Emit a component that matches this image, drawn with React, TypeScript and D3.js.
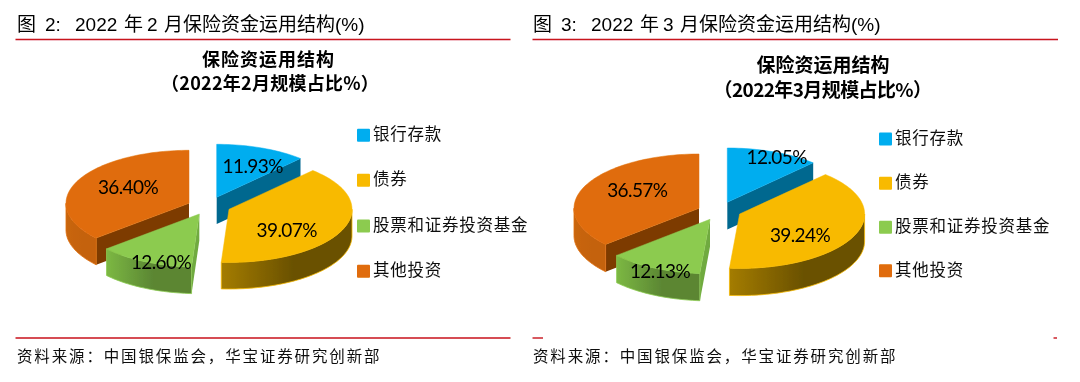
import React from "react";
import * as d3 from "d3";

const categories = ["银行存款", "债券", "股票和证券投资基金", "其他投资"];
const febValues = [11.93, 39.07, 12.6, 36.4];
const marValues = [12.05, 39.24, 12.13, 36.57];
const topColors = ["#00adef", "#f8ba00", "#8ccb50", "#e06c08"];
const faceColors = ["#00678f", "#7d6000", "#70aa3f", "#7d3b00"];
const wallStops = [
  ["#00678f", "#00678f"],
  ["#a47c00", "#6a5100"],
  ["#7cb843", "#5b8633"],
  ["#c9660f", "#c4620e"],
];
const drawOrder = [3, 0, 2, 1];
const sans = "'Liberation Sans','Noto Sans CJK SC',sans-serif";
const cjk = "'Noto Sans CJK SC',sans-serif";
const labelFont = "Lato,'Open Sans',sans-serif";

const color = d3.scaleOrdinal<string, string>().domain(categories).range(topColors);

type Panel = {
  id: string;
  dx: number;
  fig: string;
  month: string;
  values: number[];
  rx: number;
  ry: number;
  depth: number;
  apex: number[][];
  labels: number[][];
  titleX: number;
  titleY: number[];
  titleSize: number;
  titleGap: number;
  subGap: number;
  legendX: number;
  legendY: number[];
};

const panels: Panel[] = [
  {
    id: "feb", dx: 0, fig: "2", month: "2", values: febValues,
    rx: 123, ry: 53, depth: 26.7,
    apex: [[216.7, 197.3], [229, 209.3], [199.3, 214], [189, 203.3]],
    labels: [[252.7, 166], [286.7, 230], [161, 262.3], [128, 186.7]],
    titleX: 268.5, titleY: [59.5, 83.5], titleSize: 18, titleGap: 1, subGap: 0.25,
    legendX: 357, legendY: [135.3, 180.3, 226, 271.3],
  },
  {
    id: "mar", dx: 516, fig: "3", month: "3", values: marValues,
    rx: 125, ry: 54.3, depth: 27.3,
    apex: [[727.3, 202.3], [739.6, 214], [710, 219.3], [699, 208.3]],
    labels: [[776.7, 157.3], [800, 235], [660, 271], [637.3, 190]],
    titleX: 823, titleY: [65, 90], titleSize: 19, titleGap: 0, subGap: -0.6,
    legendX: 879, legendY: [139, 183.3, 227.3, 270.7],
  },
];

const lineGen = d3.line<[number, number]>().x((d) => d[0]).y((d) => d[1]);

function arcPts(cx: number, cy: number, rx: number, ry: number, a0: number, a1: number, dy = 0): [number, number][] {
  const n = Math.max(2, Math.ceil(Math.abs(a1 - a0) / 0.03));
  return d3.range(n + 1).map((i) => {
    const a = a0 + ((a1 - a0) * i) / n;
    return [cx + rx * Math.sin(a), cy - ry * Math.cos(a) + dy] as [number, number];
  });
}

function Slice({ p, i }: { p: Panel; i: number }) {
  const arcs = d3.pie<number>().sort(null)(p.values);
  const { startAngle: s, endAngle: e } = arcs[i];
  const [cx, cy] = p.apex[i];
  const { rx, ry, depth } = p;
  const top = arcPts(cx, cy, rx, ry, s, e);
  const topPath = lineGen([[cx, cy], ...top])! + "Z";
  const face = (a: number) => {
    const r = arcPts(cx, cy, rx, ry, a, a)[0];
    const pts: [number, number][] = [[cx, cy], r, [r[0], r[1] + depth], [cx, cy + depth]];
    return lineGen(pts)! + "Z";
  };
  const w0 = Math.max(s, Math.PI / 2);
  const w1 = Math.min(e, (3 * Math.PI) / 2);
  const wall = w1 > w0
    ? lineGen([...arcPts(cx, cy, rx, ry, w0, w1), ...arcPts(cx, cy, rx, ry, w1, w0, depth)])! + "Z"
    : null;
  const tc = color(categories[i]);
  return (
    <g>
      {Math.sin(e) > 0.01 && <path d={face(e)} fill={faceColors[i]} />}
      {Math.sin(s) < -0.01 && <path d={face(s)} fill={faceColors[i]} />}
      {wall && (
        <path d={wall} fill={`url(#wall-${p.id}-${i})`} stroke={tc} strokeWidth={0.8} strokeLinejoin="round" />
      )}
      <path d={topPath} fill={tc} stroke={tc} strokeWidth={0.5} strokeLinejoin="round" />
    </g>
  );
}

function Heading({ p }: { p: Panel }) {
  const x = (v: number) => v + p.dx;
  return (
    <text y={31} fontSize={19} fill="#000" fontFamily={sans}>
      <tspan x={x(17)}>图</tspan>
      <tspan x={x(45)}>{p.fig}:</tspan>
      <tspan x={x(75)}>2022</tspan>
      <tspan x={x(124)}>年</tspan>
      <tspan x={x(147)}>{p.month}</tspan>
      <tspan x={x(164)}>月</tspan>
      <tspan x={x(183)}>保险资金运用结构(%)</tspan>
    </text>
  );
}

function PanelView({ p }: { p: Panel }) {
  const left = p.dx === 0 ? 15.5 : 532.5;
  const right = p.dx === 0 ? 510.5 : 1058;
  return (
    <g>
      <defs>
        {wallStops.map((st, i) => (
          <linearGradient key={i} id={`wall-${p.id}-${i}`} x1="0" x2="1" y1="0" y2="0">
            <stop offset="0" stopColor={st[0]} />
            <stop offset="0.55" stopColor={st[1]} />
            <stop offset="1" stopColor={st[1]} />
          </linearGradient>
        ))}
      </defs>
      <Heading p={p} />
      <line x1={left} x2={right} y1={39.5} y2={39.5} stroke="#c8161d" strokeWidth={1.4} />
      {p.dx === 0 ? (
        <line x1={left} x2={right} y1={338} y2={338} stroke="#c8161d" strokeWidth={1.4} />
      ) : (
        <g stroke="#c8161d" strokeWidth={1.4}>
          <line x1={532.5} x2={543} y1={338} y2={338} />
          <line x1={1053.5} x2={1057} y1={338} y2={338} />
        </g>
      )}
      <text x={p.titleX} y={p.titleY[0] + 6.5} textAnchor="middle" fontSize={p.titleSize} fontWeight={700}
        fontFamily={cjk} letterSpacing={p.titleGap} fill="#000">保险资运用结构</text>
      <text x={p.titleX + (p.dx === 0 ? 1.5 : -0.5)} y={p.titleY[1] + 6.5} textAnchor="middle" fontSize={p.titleSize} fontWeight={700}
        fontFamily={cjk} letterSpacing={p.subGap} fill="#000">{`（2022年${p.month}月规模占比%）`}</text>
      {drawOrder.map((i) => <Slice key={i} p={p} i={i} />)}
      {p.values.map((v, i) => (
        <text key={i} x={p.labels[i][0]} y={p.labels[i][1] + 7} textAnchor="middle" fontSize={19} letterSpacing={-0.6}
          fontFamily={labelFont} fill="#000">{v.toFixed(2)}%</text>
      ))}
      {categories.map((c, i) => (
        <g key={c}>
          <rect x={p.legendX} y={p.legendY[i] - 6.5} width={13} height={13} rx={1} fill={color(c)} />
          <text x={p.legendX + 16} y={p.legendY[i] + 5} fontSize={16.5} letterSpacing={0.75}
            fontFamily={cjk} fill="#111">{c}</text>
        </g>
      ))}
      <text x={17 + p.dx} y={361.5} fontSize={15.5} letterSpacing={1.85} fontFamily={cjk} fill="#111">
        资料来源：中国银保监会，华宝证券研究创新部
      </text>
    </g>
  );
}

export default function App() {
  return (
    <svg width={1080} height={382} style={{ position: "absolute", left: 0, top: 0, background: "#fff" }}>
      <defs>
        <filter id="soft" x="-2%" y="-2%" width="104%" height="104%">
          <feGaussianBlur stdDeviation={0.4} />
        </filter>
      </defs>
      <g filter="url(#soft)">
        {panels.map((p) => <PanelView key={p.id} p={p} />)}
      </g>
    </svg>
  );
}
